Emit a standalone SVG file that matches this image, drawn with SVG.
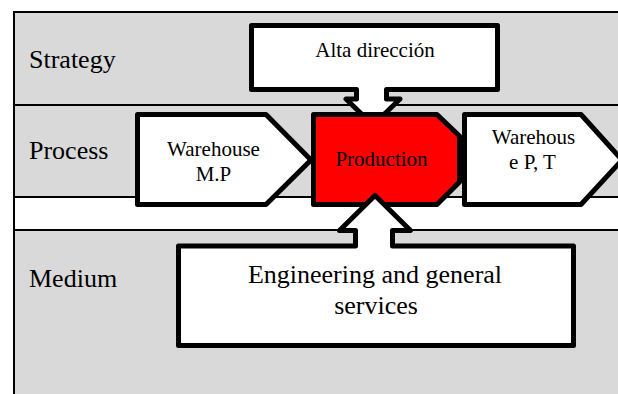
<svg xmlns="http://www.w3.org/2000/svg" width="618" height="394" viewBox="0 0 618 394">
  <style>
    .lane { fill: #d9d9d9; }
    .rule { stroke: #000; stroke-width: 2; fill: none; }
    .box { fill: #fff; stroke: #000; stroke-width: 5; stroke-linejoin: round; }
    .red { fill: #ff0000; stroke: #000; stroke-width: 5; stroke-linejoin: round; }
    .lbl { font-family: "Liberation Serif", "Times New Roman", serif; font-size: 26px; fill: #000; }
    .t21 { font-family: "Liberation Serif", "Times New Roman", serif; font-size: 21px; fill: #000; text-anchor: middle; }
    .t26 { font-family: "Liberation Serif", "Times New Roman", serif; font-size: 26px; fill: #000; text-anchor: middle; }
  </style>
  <rect x="0" y="0" width="618" height="394" fill="#fff"/>
  <g id="lanes">
    <rect class="lane" x="14" y="12" width="604" height="185"/>
    <rect x="14" y="197" width="604" height="33" fill="#fff"/>
    <rect class="lane" x="14" y="230" width="604" height="164"/>
    <line class="rule" x1="13" y1="12" x2="618" y2="12"/>
    <line class="rule" x1="14" y1="11" x2="14" y2="394"/>
    <line class="rule" x1="14" y1="105" x2="618" y2="105"/>
    <line class="rule" x1="14" y1="197" x2="618" y2="197"/>
    <line class="rule" x1="14" y1="230" x2="618" y2="230"/>
    <text class="lbl" x="29" y="67.5">Strategy</text>
    <text class="lbl" x="29" y="159">Process</text>
    <text class="lbl" x="29" y="287">Medium</text>
  </g>
  <g id="connectors"></g>
  <g id="alta">
    <path class="box" d="M251.5,25.5 H497.5 V89.5 H386.5 V99 H400 L373,125 L346,99 H356.5 V89.5 H251.5 Z"/>
    <text class="t21" x="375" y="57">Alta dirección</text>
  </g>
  <g id="warehouse-mp">
    <path class="box" d="M137.5,114.5 H266 L311,160 L266,204.5 H137.5 Z"/>
    <text class="t21" x="213.5" y="156">Warehouse</text>
    <text class="t21" x="213.5" y="181">M.P</text>
  </g>
  <g id="warehouse-pt">
    <path class="box" d="M464.5,114.5 H581 L622,160 L581,204.5 H464.5 Z"/>
    <text class="t21" x="533.5" y="144">Warehous</text>
    <text class="t21" x="532.5" y="169">e P, T</text>
  </g>
  <g id="production">
    <path class="red" d="M313.5,114.5 H437 L459.5,136 V182 L437,204.5 H313.5 Z"/>
    <text class="t21" x="381.5" y="166">Production</text>
  </g>
  <g id="engineering">
    <path class="box" d="M178.5,246 H355.5 V230.5 H339.5 L375,195.5 L410.5,230.5 H392.5 V246 H573.5 V345.5 H178.5 Z"/>
    <text class="t26" x="375" y="283">Engineering and general</text>
    <text class="t26" x="376" y="314">services</text>
  </g>
</svg>
